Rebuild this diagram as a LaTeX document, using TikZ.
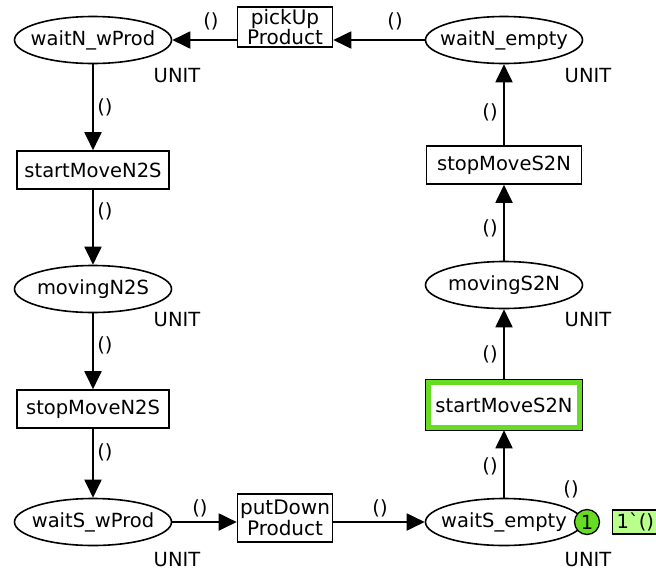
\documentclass[tikz,border=0pt]{standalone}
\usepackage{fontspec}
\setmainfont{DejaVu Sans}[Ligatures=TeXOff]
\usetikzlibrary{arrows.meta,shapes.geometric}
\definecolor{tokgreen}{HTML}{66DD22}
\definecolor{markgreen}{HTML}{B8FF8C}
\newcommand{\plabel}[1]{\makebox[0pt]{#1}}
\tikzset{
  place/.style={ellipse, draw, line width=1.6pt, fill=white, minimum width=157pt, minimum height=47pt, inner sep=0pt},
  trans/.style={rectangle, draw, line width=1.6pt, fill=white, minimum width=152pt, minimum height=38pt, inner sep=2pt},
  ttrans/.style={trans, minimum width=95pt, minimum height=40pt, align=center, font=\fontsize{20}{18.5}\selectfont},
  arc/.style={line width=1.9pt, -{Triangle[length=18pt,width=17pt]}},
  inscr/.style={inner sep=0pt},
}
\begin{document}
\begin{tikzpicture}[x=1pt,y=-1pt, font=\fontsize{19.5}{22}\selectfont]
\useasboundingbox (0,0) rectangle (656,574);

% places
\node[place] (wNw) at (93,40)  {\plabel{waitN\_wProd}};
\node[place] (wNe) at (504,40) {\plabel{waitN\_empty}};
\node[place] (mN2S) at (93,289) {\plabel{movingN2S}};
\node[place] (mS2N) at (504,285) {\plabel{movingS2N}};
\node[place] (wSw) at (93,522) {\plabel{waitS\_wProd}};
\node[place] (wSe) at (504,522) {\plabel{waitS\_empty}};

% transitions
\node[ttrans] (pick) at (285,27) {pickUp\\Product};
\node[ttrans, minimum height=48pt] (put) at (285,518) {putDown\\Product};
\node[trans] (sN2S) at (93,170) {startMoveN2S};
\node[trans] (stN2S) at (93,409) {stopMoveN2S};
\node[trans, minimum width=155pt] (stS2N) at (504,165) {stopMoveS2N};
\node[trans, minimum width=155pt, minimum height=49pt] (sS2N) at (504,405) {startMoveS2N};
\draw[tokgreen, line width=5pt]
  ([xshift=3.2pt,yshift=-3.2pt]sS2N.north west) rectangle ([xshift=-3.2pt,yshift=3.2pt]sS2N.south east);
\draw[line width=1.3pt] (sS2N.north west) rectangle (sS2N.south east);

% colour sets
\node[inscr] (uNw) at (177,76) {UNIT};
\node[inscr] (uNe) at (588,76) {UNIT};
\node[inscr] (uMN) at (177,320) {UNIT};
\node[inscr] (uMS) at (588,320) {UNIT};
\node[inscr] (uSw) at (177,560) {UNIT};
\node[inscr] (uSe) at (588,560) {UNIT};

% arcs
\draw[arc] (pick.west |- wNw.east) -- (wNw.east);
\draw[arc] (wNe.west) -- (pick.east |- wNe.west);
\draw[arc] (wNw) -- (sN2S);
\draw[arc] (sN2S) -- (mN2S);
\draw[arc] (mN2S) -- (stN2S);
\draw[arc] (stN2S) -- (wSw);
\draw[arc] (wSw.east) -- (put.west |- wSw.east);
\draw[arc] (put.east |- wSe.west) -- (wSe.west);
\draw[arc] (wSe) -- (sS2N);
\draw[arc] (sS2N) -- (mS2N);
\draw[arc] (mS2N) -- (stS2N);
\draw[arc] (stS2N) -- (wNe);

% arc inscriptions
\node[inscr] (a1) at (211,21) {()};
\node[inscr] (a2) at (395,21) {()};
\node[inscr] (a3) at (105,107) {()};
\node[inscr] (a4) at (105,211) {()};
\node[inscr] (a5) at (105,345) {()};
\node[inscr] (a6) at (105,452) {()};
\node[inscr] (a7) at (490,112) {()};
\node[inscr] (a8) at (490,228) {()};
\node[inscr] (a9) at (490,354) {()};
\node[inscr] (a10) at (490,466) {()};
\node[inscr] (a11) at (200,508) {()};
\node[inscr] (a12) at (380,508) {()};

% initial marking
\node[inscr] (im) at (571,489) {()};
\node[circle, draw, line width=1.3pt, fill=tokgreen, minimum size=25pt, inner sep=0pt] (tok) at (587,522) {1};
\node[rectangle, draw, line width=1.3pt, fill=markgreen, anchor=west, minimum height=23pt, inner ysep=3pt, inner xsep=4pt, text width=42pt] (mark) at (612,522) {1\symbol{"60}()};
\end{tikzpicture}
\end{document}
